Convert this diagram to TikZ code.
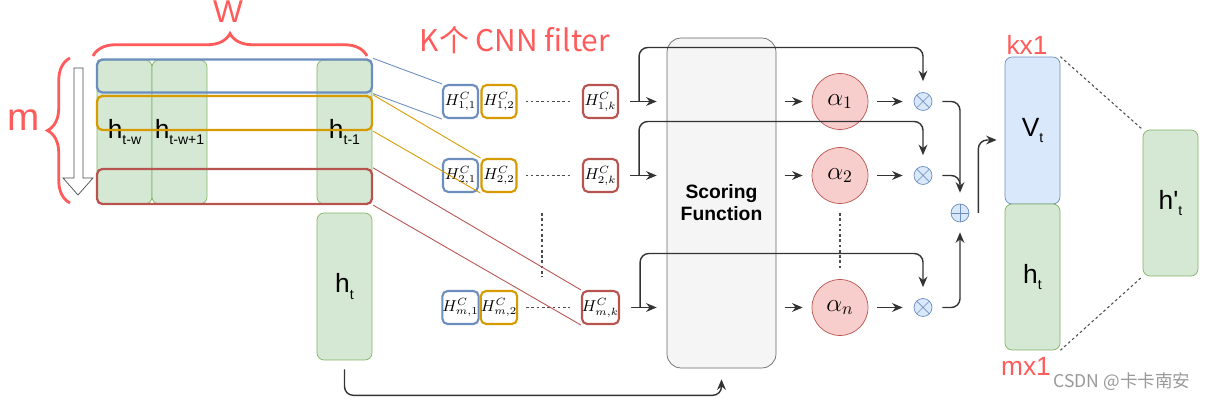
\documentclass[tikz,border=0pt]{standalone}
\usepackage{fontspec}
\setsansfont{Liberation Sans}
\newfontfamily\cjk{Noto Sans CJK SC}
\usetikzlibrary{arrows.meta,decorations.pathreplacing,calc}
\definecolor{hgreen}{HTML}{D5E8D4}
\definecolor{hgreenline}{HTML}{82B366}
\definecolor{vblue}{HTML}{DAE8FC}
\definecolor{vblueline}{HTML}{6C8EBF}
\definecolor{forange}{HTML}{D79B00}
\definecolor{fred}{HTML}{B85450}
\definecolor{apink}{HTML}{F8CECC}
\definecolor{sfgray}{HTML}{F5F5F5}
\definecolor{inkred}{HTML}{FF5B5B}
\newcommand\lsub[1]{\raisebox{-0.45ex}{\fontsize{8}{8}\selectfont #1}}

\begin{document}
\begin{tikzpicture}[x=0.02cm,y=-0.02cm,
	vec/.style={draw=hgreenline,fill=hgreen,rounded corners=4pt,minimum width=1.1cm,minimum height=2.88cm,inner sep=0pt,font=\sffamily\fontsize{15}{18}\selectfont},
	band/.style={draw=#1,line width=1.3pt,rounded corners=3pt,minimum width=5.5cm,minimum height=0.66cm,inner sep=0pt},
	filt/.style={draw=#1,line width=1.2pt,rounded corners=3pt,minimum width=0.7cm,minimum height=0.66cm,inner sep=0pt,font=\fontsize{9}{10}\selectfont},
	link/.style={draw=#1,line width=0.5pt},
	weight/.style={circle,draw=fred,fill=apink,minimum size=1.12cm,inner sep=0pt,font=\fontsize{14}{16}\selectfont},
	op/.style={circle,draw=vblueline,fill=vblue,minimum size=0.36cm,inner sep=0pt},
	mul/.style={op,path picture={\draw[vblueline] (path picture bounding box.north west)--(path picture bounding box.south east) (path picture bounding box.north east)--(path picture bounding box.south west);}},
	add/.style={op,path picture={\draw[vblueline] (path picture bounding box.north)--(path picture bounding box.south) (path picture bounding box.east)--(path picture bounding box.west);}},
	arr/.style={draw=black!80,line width=0.8pt,-{Stealth[length=6pt,width=5pt]}},
	dots/.style={draw=black!70,line width=0.6pt,dash pattern=on 1.5pt off 1.5pt},
	note/.style={text=inkred,font=\sffamily\fontsize{#1}{#1}\selectfont},
	brc/.style={draw=inkred,line width=1.6pt,decorate,decoration={brace,amplitude=#1}}
]
\useasboundingbox (0,0) rectangle (1205,401);

% window of hidden states
\node[vec] (c1) at (124.5,132) {h\lsub{t-w}};
\node[vec] (c2) at (179.5,132) {h\lsub{t-w+1}};
\node[vec] (c3) at (344.5,132) {h\lsub{t-1}};
\node[vec,minimum height=2.94cm] (ht) at (344.5,286.5) {h\lsub{t}};
\node[band=vblueline] (rb) at (234.5,76) {};
\node[band=forange,minimum height=0.68cm] (ro) at (234.5,113) {};
\node[band=fred,minimum height=0.7cm] (rr) at (234.5,186.5) {};
\draw[draw=black!70,fill=white] (74,68) -- (83,68) -- (83,178) -- (93,178) -- (78,195) -- (63,178) -- (74,178) -- cycle;

% CNN filters
\foreach \r/\y in {1/101.5,2/175.5,m/307.5}{
	\node[filt=vblueline] (f\r-1) at (460.5,\y) {$H^C_{\r,1}$};
	\node[filt=forange] (f\r-2) at (499,\y) {$H^C_{\r,2}$};
	\node[filt=fred] (f\r-k) at (600.5,\y) {$H^C_{\r,k}$};
	\draw[dots] ([xshift=0.16cm]f\r-2.east) -- ([xshift=-0.22cm]f\r-k.west);
}
\draw[dots] (542,213) -- (542,277);
\draw[link=vblueline] (rb.north east) -- (f1-1.north west) (rb.south east) -- (f1-1.south west);
\draw[link=forange] (ro.north east) -- (f2-2.north west) (ro.south east) -- (f2-2.south west);
\draw[link=fred] (rr.north east) -- (fm-k.north west) (rr.south east) -- (fm-k.south west);

\node[draw=black!60,fill=sfgray,rounded corners=8pt,minimum width=2.18cm,minimum height=6.6cm,align=center,font=\sffamily\bfseries\fontsize{11}{12.5}\selectfont] (sf) at (721.5,203) {Scoring\\Function};

% attention weights
\node[weight] (a1) at (840,101.5) {$\alpha_1$};
\node[weight] (a2) at (840,175.5) {$\alpha_2$};
\node[weight] (an) at (840,307.5) {$\alpha_n$};
\draw[dots] (840,213) -- (840,268);
\node[mul] (m1) at (923,101.5) {};
\node[mul] (m2) at (923,175.5) {};
\node[mul] (mn) at (923,307.5) {};
\node[add] (pl) at (960,213) {};

\foreach \r/\i in {1/1,2/2,m/n}{
	\draw[arr] ([xshift=0.22cm]f\r-k.east) -- ([xshift=-0.2cm]sf.west |- f\r-k.east);
	\draw[arr,rounded corners=5pt] ([xshift=0.4cm]f\r-k.east) -- ++(0,-54) -| ([yshift=0.22cm]m\i.north);
	\draw[arr] ([xshift=0.18cm]sf.east |- a\i.east) -- ([xshift=-0.18cm]a\i.west);
	\draw[arr] ([xshift=0.18cm]a\i.east) -- ([xshift=-0.22cm]m\i.west);
}
\draw[draw=black!80,line width=0.8pt,rounded corners=5pt] ([xshift=0.2cm]m2.east) -| ([yshift=0.4cm]pl.north);
\draw[arr,rounded corners=5pt] ([xshift=0.2cm]m1.east) -| ([yshift=0.22cm]pl.north);
\draw[arr,rounded corners=5pt] ([xshift=0.2cm]mn.east) -| ([yshift=-0.2cm]pl.south);

% output
\node[vec,draw=vblueline,fill=vblue,minimum height=2.94cm] (vt) at (1032.5,130.5) {V\lsub{t}};
\node[vec,minimum height=2.92cm] (h2) at (1032.5,277) {h\lsub{t}};
\node[vec,minimum height=2.92cm] (hp) at (1170.5,203) {h\textquotesingle\lsub{t}};
\draw[arr,rounded corners=5pt] ([xshift=0.18cm]pl.east) |- ([xshift=-0.16cm,yshift=-0.19cm]vt.west);
\draw[dots] (vt.north east) -- (hp.north west) (h2.south east) -- (hp.south west);
\draw[arr,rounded corners=5pt] ([yshift=-0.18cm]ht.south) -- ++(0,26) -| ([yshift=-0.22cm]sf.south);

% hand notes
\draw[brc=0.45cm] (93,56) -- (367,56);
\draw[brc=0.45cm] (70,203) -- (70,58);
\node[note=18] (nw) at (228,12) {W};
\node[note=22] (nm) at (24,120) {m};
\node[note=17,font=\cjk\fontsize{17}{17}\selectfont] (nk) at (515,40) {K个 CNN filter};
\node[note=15] (nkx) at (1027,45) {kx1};
\node[note=15] (nmx) at (1026,366) {mx1};
\node[text=black!40,font=\cjk\fontsize{10}{10}\selectfont] (wm) at (1122,382) {CSDN @卡卡南安};
\end{tikzpicture}
\end{document}
